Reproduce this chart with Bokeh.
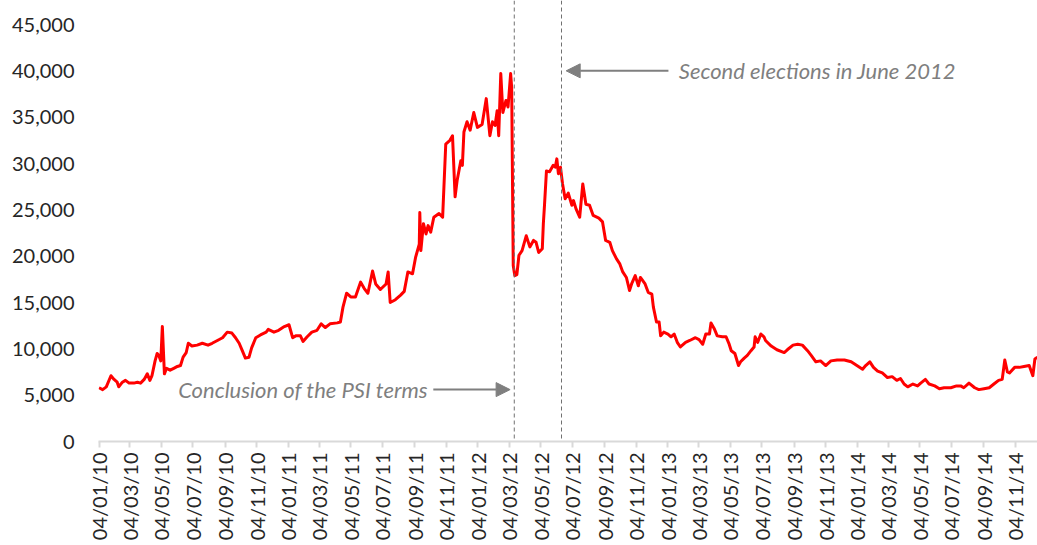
import math
import pandas as pd
from bokeh.plotting import figure
from bokeh.models import (Range1d, FixedTicker, DatetimeTickFormatter, NumeralTickFormatter,
                          SingleIntervalTicker, Span, Label, Arrow, NormalHead, ColumnDataSource)
from bokeh.embed import file_html
from bokeh.resources import INLINE

# ---------------- data ----------------
dates = [
    "2010-01-04", "2010-01-11", "2010-01-18", "2010-01-27", "2010-02-02", "2010-02-08", "2010-02-11",
    "2010-02-18", "2010-02-24", "2010-03-03", "2010-03-12", "2010-03-19", "2010-03-25", "2010-04-01",
    "2010-04-07", "2010-04-12", "2010-04-16", "2010-04-22", "2010-04-26", "2010-04-29", "2010-05-03",
    "2010-05-06", "2010-05-10", "2010-05-14", "2010-05-21", "2010-05-28", "2010-06-04", "2010-06-10",
    "2010-06-15", "2010-06-21", "2010-06-25", "2010-07-02", "2010-07-12", "2010-07-22", "2010-08-02",
    "2010-08-10", "2010-08-20", "2010-08-30", "2010-09-08", "2010-09-17", "2010-09-24", "2010-10-01",
    "2010-10-07", "2010-10-13", "2010-10-20", "2010-10-25", "2010-11-02", "2010-11-11", "2010-11-22",
    "2010-11-26", "2010-12-07", "2010-12-16", "2010-12-27", "2011-01-05", "2011-01-12", "2011-01-18",
    "2011-01-27", "2011-02-01", "2011-02-09", "2011-02-18", "2011-02-28", "2011-03-08", "2011-03-16",
    "2011-03-25", "2011-04-08", "2011-04-14", "2011-04-19", "2011-04-26", "2011-05-04", "2011-05-13",
    "2011-05-23", "2011-05-30", "2011-06-06", "2011-06-15", "2011-06-21", "2011-06-30", "2011-07-11",
    "2011-07-15", "2011-07-19", "2011-07-29", "2011-08-08", "2011-08-15", "2011-08-22", "2011-08-31",
    "2011-09-06", "2011-09-13", "2011-09-14", "2011-09-16", "2011-09-21", "2011-09-26", "2011-09-30",
    "2011-10-05", "2011-10-11", "2011-10-21", "2011-10-28", "2011-11-03", "2011-11-11", "2011-11-16",
    "2011-11-21", "2011-11-25", "2011-12-02", "2011-12-05", "2011-12-08", "2011-12-14", "2011-12-20",
    "2011-12-27", "2012-01-03", "2012-01-12", "2012-01-20", "2012-01-27", "2012-02-01", "2012-02-06",
    "2012-02-10", "2012-02-13", "2012-02-17", "2012-02-21", "2012-02-27", "2012-03-02", "2012-03-07",
    "2012-03-09", "2012-03-12", "2012-03-15", "2012-03-19", "2012-03-23", "2012-03-29", "2012-04-06",
    "2012-04-13", "2012-04-20", "2012-04-25", "2012-04-30", "2012-05-07", "2012-05-09", "2012-05-11",
    "2012-05-15", "2012-05-21", "2012-05-28", "2012-06-01", "2012-06-04", "2012-06-07", "2012-06-11",
    "2012-06-15", "2012-06-20", "2012-06-26", "2012-07-03", "2012-07-06", "2012-07-11", "2012-07-18",
    "2012-07-24", "2012-07-30", "2012-08-06", "2012-08-13", "2012-08-24", "2012-08-31", "2012-09-06",
    "2012-09-14", "2012-09-19", "2012-09-27", "2012-10-03", "2012-10-09", "2012-10-16", "2012-10-22",
    "2012-10-26", "2012-11-02", "2012-11-08", "2012-11-12", "2012-11-21", "2012-11-27", "2012-12-04",
    "2012-12-07", "2012-12-13", "2012-12-18", "2012-12-21", "2012-12-27", "2013-01-04", "2013-01-10",
    "2013-01-16", "2013-01-22", "2013-01-28", "2013-02-07", "2013-02-15", "2013-02-26", "2013-03-05",
    "2013-03-12", "2013-03-18", "2013-03-25", "2013-03-28", "2013-04-03", "2013-04-09", "2013-04-19",
    "2013-04-26", "2013-05-02", "2013-05-06", "2013-05-13", "2013-05-20", "2013-05-24", "2013-05-31",
    "2013-06-06", "2013-06-13", "2013-06-19", "2013-06-21", "2013-06-26", "2013-07-02", "2013-07-08",
    "2013-07-11", "2013-07-22", "2013-08-02", "2013-08-16", "2013-08-22", "2013-09-02", "2013-09-11",
    "2013-09-20", "2013-09-30", "2013-10-07", "2013-10-16", "2013-10-25", "2013-11-04", "2013-11-14",
    "2013-11-26", "2013-12-10", "2013-12-23", "2014-01-03", "2014-01-14", "2014-01-20", "2014-01-28",
    "2014-02-04", "2014-02-12", "2014-02-21", "2014-03-03", "2014-03-12", "2014-03-21", "2014-03-28",
    "2014-04-04", "2014-04-11", "2014-04-21", "2014-04-30", "2014-05-06", "2014-05-15", "2014-05-22",
    "2014-06-02", "2014-06-11", "2014-06-20", "2014-07-03", "2014-07-14", "2014-07-22", "2014-07-28",
    "2014-08-07", "2014-08-18", "2014-08-26", "2014-09-05", "2014-09-15", "2014-09-24", "2014-10-03",
    "2014-10-10", "2014-10-15", "2014-10-20", "2014-10-24", "2014-11-03", "2014-11-12", "2014-11-21",
    "2014-12-01", "2014-12-08", "2014-12-12", "2014-12-17",
]
values = [
    5800, 5600, 5900, 7100, 6700, 6400, 5900,
    6400, 6600, 6300, 6300, 6400, 6300, 6700,
    7300, 6600, 7100, 8700, 9500, 9300, 8700,
    12400, 7300, 7900, 7700, 7900, 8100, 8200,
    9100, 9600, 10600, 10300, 10400, 10600, 10400,
    10600, 10900, 11200, 11800, 11700, 11200, 10600,
    9800, 9000, 9100, 10100, 11200, 11500, 11800,
    12100, 11800, 12000, 12400, 12600, 11200, 11400,
    11400, 10800, 11300, 11800, 12000, 12700, 12300,
    12700, 12800, 12900, 14500, 16000, 15600, 15600,
    17200, 16500, 16000, 18400, 17000, 16400, 17000,
    18300, 15000, 15300, 15800, 16200, 18300, 18100,
    19900, 21300, 24700, 20600, 23500, 22400, 23300,
    22600, 24200, 24600, 24200, 32100, 32500, 33000,
    26400, 28200, 30300, 29800, 33400, 34500, 33600,
    35500, 33900, 34200, 37000, 33000, 34500, 34100,
    35700, 33000, 39700, 35500, 36800, 36100, 39700,
    38200, 19000, 17900, 18000, 20100, 20600, 22200,
    21000, 21700, 21500, 20400, 20800, 23500, 25300,
    29200, 29100, 29800, 29600, 30500, 28900, 29600,
    27800, 26200, 26800, 25500, 26000, 25100, 24200,
    27800, 25600, 25500, 24400, 24100, 23700, 21700,
    21500, 20600, 19700, 19200, 18300, 17700, 16300,
    17000, 17900, 16800, 17700, 17000, 16100, 15900,
    14500, 12900, 12900, 11400, 11800, 11600, 11300,
    11600, 10700, 10200, 10700, 10900, 11200, 11000,
    10500, 11600, 11600, 12800, 12200, 11400, 11300,
    11300, 10500, 9800, 9500, 8200, 8600, 9000,
    9300, 9800, 10200, 11300, 10700, 11600, 11300,
    10900, 10300, 9900, 9600, 9900, 10400, 10500,
    10400, 9800, 9300, 8600, 8700, 8200, 8700,
    8800, 8800, 8600, 8200, 7800, 8200, 8600,
    8000, 7600, 7400, 6900, 7000, 6600, 6800,
    6200, 5900, 6200, 6000, 6300, 6700, 6200,
    6000, 5700, 5800, 5800, 6000, 6000, 5800,
    6300, 5800, 5600, 5700, 5800, 6200, 6600,
    6700, 8800, 7500, 7400, 8000, 8000, 8100,
    8200, 7100, 8900, 9100,
]
tick_dates = [
    "2010-01-04", "2010-03-04", "2010-05-04", "2010-07-04", "2010-09-04", "2010-11-04",
    "2011-01-04", "2011-03-04", "2011-05-04", "2011-07-04", "2011-09-04", "2011-11-04",
    "2012-01-04", "2012-03-04", "2012-05-04", "2012-07-04", "2012-09-04", "2012-11-04",
    "2013-01-04", "2013-03-04", "2013-05-04", "2013-07-04", "2013-09-04", "2013-11-04",
    "2014-01-04", "2014-03-04", "2014-05-04", "2014-07-04", "2014-09-04", "2014-11-04",
]
event_dates = ["2012-03-14", "2012-06-13"]
event_labels = ["Conclusion of the PSI terms", "Second elections in June 2012"]


def ms(d):
    return pd.Timestamp(d).value / 1e6


FONT = "Lato"
GREY = "#7f7f7f"

p = figure(width=1037, height=545, x_axis_type="datetime",
           output_backend="svg", toolbar_location=None,
           x_range=Range1d(ms("2010-01-03"), ms("2014-12-17")),
           y_range=Range1d(0, 47590),
           min_border_left=98, min_border_right=0, min_border_top=0, min_border_bottom=104)
p.outline_line_color = None
p.background_fill_color = "white"
p.border_fill_color = "white"
p.xgrid.grid_line_color = None
p.ygrid.grid_line_color = None

src = ColumnDataSource(dict(date=pd.to_datetime(dates), value=values))
p.line(x="date", y="value", source=src, line_color="#ff0000", line_width=3,
       line_join="round")

# event lines
for d in event_dates:
    p.add_layout(Span(location=ms(d), dimension="height", line_color="#707070",
                      line_width=1, line_dash="4 3"))

# annotations
lab_psi = Label(x=ms("2011-09-30"), y=5600, text=event_labels[0], text_font=FONT,
                text_font_size="22px", text_font_style="italic", text_color=GREY,
                text_align="right", text_baseline="middle")
lab_el = Label(x=ms("2013-01-25"), y=40000, text=event_labels[1], text_font=FONT,
               text_font_size="22px", text_font_style="italic", text_color=GREY,
               text_align="left", text_baseline="middle")
p.add_layout(lab_psi)
p.add_layout(lab_el)
p.add_layout(Arrow(x_start=ms("2011-10-10"), y_start=5600, x_end=ms("2012-03-06"), y_end=5600,
                   line_color=GREY, line_width=2,
                   end=NormalHead(size=14, fill_color=GREY, line_color=GREY)))
p.add_layout(Arrow(x_start=ms("2013-01-05"), y_start=40000, x_end=ms("2012-06-22"), y_end=40000,
                   line_color=GREY, line_width=2,
                   end=NormalHead(size=14, fill_color=GREY, line_color=GREY)))

# x axis
xa = p.xaxis[0]
xa.ticker = FixedTicker(ticks=[ms(d) for d in tick_dates])
fmt = "%d/%m/%y"
xa.formatter = DatetimeTickFormatter(microseconds=fmt, milliseconds=fmt, seconds=fmt, minsec=fmt,
                                     minutes=fmt, hourmin=fmt, hours=fmt, days=fmt,
                                     months=fmt, years=fmt)
xa.major_label_orientation = math.pi / 2
xa.axis_line_color = "#d9d9d9"
xa.axis_line_width = 2
xa.major_tick_line_color = "#d9d9d9"
xa.major_tick_line_width = 2
xa.major_tick_in = 0
xa.major_tick_out = 6
xa.minor_tick_line_color = None
xa.major_label_standoff = 5
xa.major_label_text_font = FONT
xa.major_label_text_font_size = "20px"
xa.major_label_text_color = "#262626"

# y axis
ya = p.yaxis[0]
ya.ticker = SingleIntervalTicker(interval=5000)
ya.formatter = NumeralTickFormatter(format="0,0")
ya.axis_line_color = None
ya.major_tick_line_color = None
ya.minor_tick_line_color = None
ya.major_tick_in = 0
ya.major_tick_out = 0
ya.major_label_standoff = 20
ya.major_label_text_font = FONT
ya.major_label_text_font_size = "20px"
ya.major_label_text_color = "#262626"

open("out.html", "w").write(file_html(p, INLINE))
